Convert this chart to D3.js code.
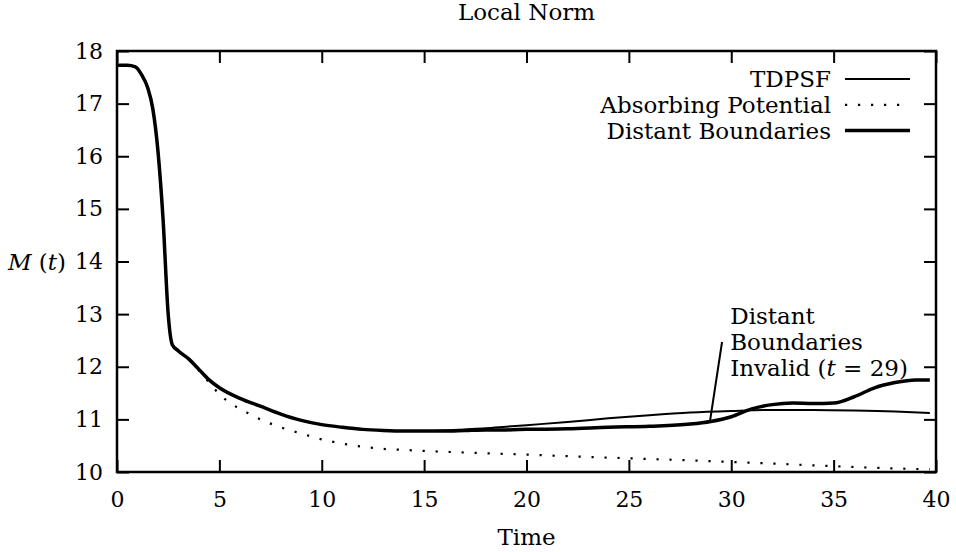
<!DOCTYPE html>
<html>
<head>
<meta charset="utf-8">
<script src="https://cdn.jsdelivr.net/npm/d3@7"></script>
<style>
  body { margin: 0; background: #fff; }
</style>
</head>
<body>
<div id="chart"></div>
<script>
// data
const timeTD = [0, 0.5, 0.9, 1.2, 1.5, 1.75, 2.0, 2.25, 2.5, 2.7, 3.0, 3.5, 4.0, 4.5, 5, 6, 7, 8, 9, 10, 11, 12, 13, 14, 15, 16, 17, 18, 19, 20, 22, 24, 26, 28, 30, 32, 34, 36, 38, 39.7];
const tdpsf = [17.73, 17.73, 17.7, 17.55, 17.3, 16.9, 16.1, 14.8, 13.0, 12.42, 12.3, 12.15, 11.95, 11.75, 11.6, 11.4, 11.25, 11.1, 10.98, 10.9, 10.85, 10.81, 10.79, 10.78, 10.78, 10.79, 10.81, 10.83, 10.86, 10.89, 10.95, 11.02, 11.08, 11.13, 11.16, 11.18, 11.18, 11.17, 11.15, 11.12];

const timeAbs = [0, 0.5, 0.9, 1.2, 1.5, 1.75, 2.0, 2.25, 2.5, 2.7, 3.0, 3.5, 4.0, 4.5, 5, 5.5, 6, 6.5, 7, 8, 9, 10, 11, 12, 13, 14, 15, 17, 20, 22, 25, 28, 30, 32, 35, 37, 39.7];
const absorbing = [17.73, 17.73, 17.7, 17.55, 17.3, 16.9, 16.1, 14.8, 13.0, 12.42, 12.3, 12.15, 11.93, 11.7, 11.48, 11.32, 11.2, 11.1, 11.0, 10.85, 10.73, 10.62, 10.54, 10.48, 10.44, 10.42, 10.4, 10.37, 10.33, 10.3, 10.26, 10.22, 10.19, 10.16, 10.11, 10.08, 10.05];

const timeDB = [0, 0.5, 0.9, 1.2, 1.5, 1.75, 2.0, 2.25, 2.5, 2.7, 3.0, 3.5, 4.0, 4.5, 5, 6, 7, 8, 9, 10, 11, 12, 13, 14, 15, 16, 17, 18, 19, 20, 22, 24, 26, 28, 29, 30, 31, 32, 33, 34, 35, 36, 37, 38, 39, 39.7];
const distant = [17.73, 17.73, 17.7, 17.55, 17.3, 16.9, 16.1, 14.8, 13.0, 12.42, 12.3, 12.15, 11.95, 11.75, 11.6, 11.4, 11.25, 11.1, 10.98, 10.9, 10.85, 10.81, 10.79, 10.78, 10.78, 10.78, 10.79, 10.8, 10.8, 10.81, 10.82, 10.85, 10.87, 10.91, 10.96, 11.05, 11.2, 11.28, 11.31, 11.3, 11.31, 11.43, 11.6, 11.7, 11.75, 11.75];

const xTicks = [0, 5, 10, 15, 20, 25, 30, 35, 40];
const yTicks = [10, 11, 12, 13, 14, 15, 16, 17, 18];
const legendNames = ["TDPSF", "Absorbing Potential", "Distant Boundaries"];

const width = 956, height = 552;
const margin = {left: 117, right: 20, top: 51, bottom: 80};
const serif = '"DejaVu Serif", serif';

const svg = d3.select('#chart').append('svg')
  .attr('width', width)
  .attr('height', height)
  .attr('font-family', serif);

const x = d3.scaleLinear().domain([0, 40]).range([margin.left, width - margin.right]);
const y = d3.scaleLinear().domain([10, 18]).range([height - margin.bottom, margin.top]);

const fs = 23;
const tickFs = 22;
const tickLen = 12;

// ticks, mirrored on every side
const axes = [
  d3.axisBottom(x).tickValues(xTicks).tickSizeInner(-tickLen).tickSizeOuter(0).tickPadding(19),
  d3.axisTop(x).tickValues(xTicks).tickSizeInner(-tickLen).tickSizeOuter(0).tickFormat(''),
  d3.axisLeft(y).tickValues(yTicks).tickSizeInner(-tickLen).tickSizeOuter(0).tickPadding(14),
  d3.axisRight(y).tickValues(yTicks).tickSizeInner(-tickLen).tickSizeOuter(0).tickFormat('')
];
const trans = [
  `translate(0,${y(10)})`, `translate(0,${y(18)})`,
  `translate(${x(0)},0)`, `translate(${x(40)},0)`
];
axes.forEach((ax, i) => {
  const g = svg.append('g').attr('transform', trans[i]).call(ax);
  g.attr('font-family', serif).attr('font-size', tickFs);
  g.select('.domain').remove();
  g.selectAll('line').attr('stroke', '#000').attr('stroke-width', 2);
  g.selectAll('text').attr('fill', '#000');
});

// lines
const line = (ts) => d3.line()
  .x((d, i) => x(ts[i]))
  .y(d => y(d))
  .curve(d3.curveMonotoneX);

svg.append('path')
  .attr('d', line(timeAbs)(absorbing))
  .attr('fill', 'none').attr('stroke', '#000')
  .attr('stroke-width', 2.2)
  .attr('stroke-dasharray', '2.2,10.8');

svg.append('path')
  .attr('d', line(timeTD)(tdpsf))
  .attr('fill', 'none').attr('stroke', '#000')
  .attr('stroke-width', 2);

svg.append('path')
  .attr('d', line(timeDB)(distant))
  .attr('fill', 'none').attr('stroke', '#000')
  .attr('stroke-width', 3.5);

// frame
svg.append('rect')
  .attr('x', x(0)).attr('y', y(18))
  .attr('width', x(40) - x(0)).attr('height', y(10) - y(18))
  .attr('fill', 'none').attr('stroke', '#000').attr('stroke-width', 2.5);

// legend
const legStyles = [
  {w: 2.2, dash: null},
  {w: 2.2, dash: '2.2,10.8'},
  {w: 3.5, dash: null}
];
const leg = svg.append('g');
legendNames.forEach((name, i) => {
  const yy = 79 + i * 25.8;
  leg.append('text')
    .attr('x', 831).attr('y', yy + 8)
    .attr('text-anchor', 'end')
    .attr('font-size', fs)
    .text(name);
  leg.append('line')
    .attr('x1', 845).attr('x2', 910)
    .attr('y1', yy).attr('y2', yy)
    .attr('stroke', '#000')
    .attr('stroke-width', legStyles[i].w)
    .attr('stroke-dasharray', legStyles[i].dash);
});

// title and axis labels
svg.append('text')
  .attr('x', (x(0) + x(40)) / 2).attr('y', 20)
  .attr('text-anchor', 'middle').attr('font-size', fs)
  .text('Local Norm');

svg.append('text')
  .attr('x', (x(0) + x(40)) / 2).attr('y', 545)
  .attr('text-anchor', 'middle').attr('font-size', fs)
  .text('Time');

const yl = svg.append('text')
  .attr('x', 8).attr('y', y(14) + 8)
  .attr('font-size', fs);
yl.append('tspan').attr('font-style', 'italic').text('M');
yl.append('tspan').text(' (');
yl.append('tspan').attr('font-style', 'italic').text('t');
yl.append('tspan').text(')');

// annotation
const ann = svg.append('g');
const annLines = ['Distant', 'Boundaries'];
annLines.forEach((s, i) => {
  ann.append('text')
    .attr('x', x(29.95)).attr('y', 324 + i * 26)
    .attr('font-size', fs)
    .text(s);
});
const inv = ann.append('text')
  .attr('x', x(29.95)).attr('y', 376)
  .attr('font-size', fs);
inv.append('tspan').text('Invalid (');
inv.append('tspan').attr('font-style', 'italic').text('t');
inv.append('tspan').text(' = 29)');

ann.append('line')
  .attr('x1', x(29.55)).attr('y1', y(12.47))
  .attr('x2', x(28.96)).attr('y2', y(10.96))
  .attr('stroke', '#000').attr('stroke-width', 2);
</script>
</body>
</html>
